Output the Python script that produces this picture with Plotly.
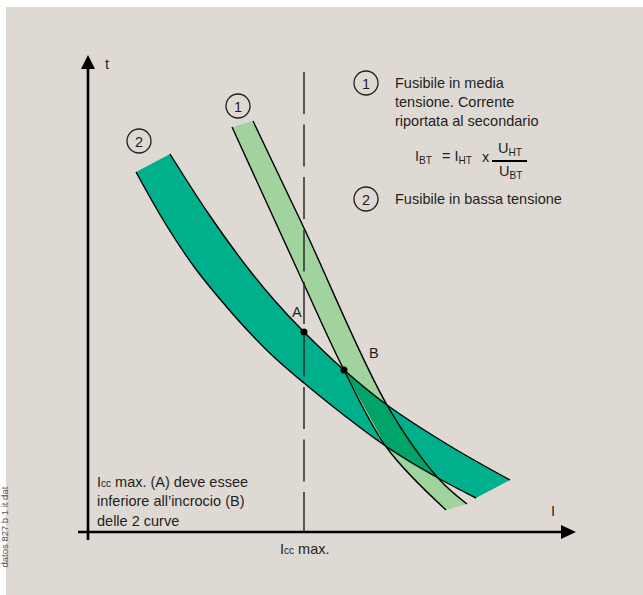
import plotly.graph_objects as go

# ---------------- data (schematic units: current I on x, time t on y; origin at the axes crossing)
fuse2_upper_I = [82, 120, 159, 187, 216, 256, 299, 362, 422]
fuse2_upper_t = [378, 319, 265, 231, 200, 162, 127, 86, 52]
fuse2_lower_I = [48, 77, 107, 137, 162, 187, 216, 257, 299, 350, 388]
fuse2_lower_t = [360, 309, 264, 227, 199, 174, 149, 116, 85, 54, 34]

fuse1_left_I = [144, 214, 256, 299, 358]
fuse1_left_t = [405, 252, 162, 84, 22]
fuse1_right_I = [165, 216, 299, 350, 379]
fuse1_right_t = [411, 304, 127, 54, 28]

overlap_I = [256, 278, 299, 325, 350, 324, 299, 278, 256]
overlap_t = [162, 144, 127, 89, 54, 68, 84, 122, 162]

icc_max = 216
point_labels = ["A", "B"]
point_I = [216, 256]
point_t = [200, 162]

legend_lines_1 = ["Fusibile in media", "tensione. Corrente", "riportata al secondario"]
legend_line_2 = "Fusibile in bassa tensione"
note_lines = ["I<span style='font-size:10px'>cc</span> max. (A) deve essee",
              "inferiore all\u2019incrocio (B)",
              "delle 2 curve"]

# ---------------- style
BG = "#dfd9d4"
TEAL = "#00b08c"
LIGHT = "#a0d39d"
OVER = "#00a46a"
INK = "#231f20"
FONT = "Liberation Sans, Arial, sans-serif"

W, H = 643, 595
ML, MT = 6, 7
OX, OY = 88, 532  # pixel position of the axes origin


def P(x, y):
    """pixel -> schematic coordinates (for decorations/labels)"""
    return x - OX, OY - y


fig = go.Figure()

# band 2 fill
fig.add_trace(go.Scatter(x=fuse2_lower_I, y=fuse2_lower_t, mode="lines",
                         line=dict(width=0, shape="spline", color=TEAL), hoverinfo="skip"))
fig.add_trace(go.Scatter(x=fuse2_upper_I, y=fuse2_upper_t, mode="lines", fill="tonexty",
                         fillcolor=TEAL, line=dict(width=0, shape="spline", color=TEAL),
                         hoverinfo="skip"))
# band 1 fill
fig.add_trace(go.Scatter(x=fuse1_left_I, y=fuse1_left_t, mode="lines",
                         line=dict(width=0, shape="spline", color=LIGHT), hoverinfo="skip"))
fig.add_trace(go.Scatter(x=fuse1_right_I, y=fuse1_right_t, mode="lines", fill="tonexty",
                         fillcolor=LIGHT, line=dict(width=0, shape="spline", color=LIGHT),
                         hoverinfo="skip"))
# overlap
fig.add_trace(go.Scatter(x=overlap_I, y=overlap_t, mode="lines", fill="toself",
                         fillcolor=OVER, line=dict(width=0, color=OVER), hoverinfo="skip"))
# edges
for xs, ys in [(fuse2_upper_I, fuse2_upper_t), (fuse2_lower_I, fuse2_lower_t),
               (fuse1_left_I, fuse1_left_t), (fuse1_right_I, fuse1_right_t)]:
    fig.add_trace(go.Scatter(x=xs, y=ys, mode="lines",
                             line=dict(width=1.4, shape="spline", color="black"),
                             hoverinfo="skip"))
# points A, B
fig.add_trace(go.Scatter(x=point_I, y=point_t, mode="markers",
                         marker=dict(size=7, color="black"), hoverinfo="skip"))

shapes = []
# dashed Icc max line
shapes.append(dict(type="line", xref="x", yref="y", x0=icc_max, x1=icc_max,
                   y0=P(0, 72)[1], y1=0, layer="above",
                   line=dict(color=INK, width=1.4, dash="42px,10.5px")))
# axes
shapes.append(dict(type="line", xref="x", yref="y", x0=P(78, 0)[0], x1=P(563, 0)[0],
                   y0=0, y1=0, line=dict(color="black", width=2.6)))
shapes.append(dict(type="line", xref="x", yref="y", x0=0, x1=0,
                   y0=P(0, 540)[1], y1=P(0, 67)[1], line=dict(color="black", width=2.6)))
# arrowheads
tx, _ = P(576, 0)
bx, _ = P(561, 0)
shapes.append(dict(type="path", xref="x", yref="y",
                   path=f"M {bx},7 L {tx},0 L {bx},-7 Z",
                   fillcolor="black", line=dict(width=0)))
_, ty = P(0, 55)
_, by = P(0, 69)
shapes.append(dict(type="path", xref="x", yref="y",
                   path=f"M -7,{by} L 0,{ty} L 7,{by} Z",
                   fillcolor="black", line=dict(width=0)))
# numbered circles
for (cx, cy) in [(366, 83), (366, 199), (238, 106), (139, 141)]:
    x0, y0 = P(cx - 12, cy + 12)
    x1, y1 = P(cx + 12, cy - 12)
    shapes.append(dict(type="circle", xref="x", yref="y", x0=x0, y0=y0, x1=x1, y1=y1,
                       line=dict(color=INK, width=1.3), fillcolor="rgba(0,0,0,0)"))
# fraction bar
fx0, fy = P(492, 161)
fx1, _ = P(527, 161)
shapes.append(dict(type="line", xref="x", yref="y", x0=fx0, x1=fx1, y0=fy, y1=fy,
                   line=dict(color="black", width=1.8)))

ann = []


def text(x, y, s, size=14.5, xanchor="left", **kw):
    ax, ay = P(x, y)
    ann.append(dict(x=ax, y=ay, xref="x", yref="y", text=s, showarrow=False,
                    xanchor=xanchor, yanchor="middle",
                    font=dict(family=FONT, size=size, color=INK), **kw))


# legend block
for i, line in enumerate(legend_lines_1):
    text(393, 83 + 19 * i, line)
text(393, 199, legend_line_2)
text(366, 84, "1", xanchor="center")
text(366, 200, "2", xanchor="center")
text(238, 107, "1", xanchor="center")
text(139, 142, "2", xanchor="center")
# formula
text(413, 157, "I<sub>BT</sub>")
text(440, 157, "= I<sub>HT</sub>")
text(480, 157, "x")
text(510, 149, "U<sub>HT</sub>", xanchor="center")
text(510, 172, "U<sub>BT</sub>", xanchor="center")
# axis labels
text(107, 64, "t", xanchor="center")
text(553, 511, "I", xanchor="center")
text(304, 549, "I<span style='font-size:10px'>cc</span> max.", xanchor="center")
# points
text(297, 312, point_labels[0], xanchor="center")
text(374, 353, point_labels[1], xanchor="center")
# note
for i, line in enumerate(note_lines):
    text(95, 482 + 19.3 * i, line)
# side code
ann.append(dict(x=(4 - ML) / (W - ML), y=1 - (485 - MT) / (H - MT), xref="paper", yref="paper",
                text="datos 827 b 1 it dat", showarrow=False, textangle=-90,
                xanchor="center", yanchor="top",
                font=dict(family=FONT, size=9.5, color="#555")))

fig.update_layout(
    width=W, height=H,
    margin=dict(l=ML, t=MT, r=0, b=0, pad=0),
    paper_bgcolor="white", plot_bgcolor=BG,
    showlegend=False,
    xaxis=dict(range=[ML - OX, W - OX], visible=False, fixedrange=True),
    yaxis=dict(range=[OY - H, OY - MT], visible=False, fixedrange=True),
    shapes=shapes, annotations=ann,
)

fig.write_html("out.html", config={"displayModeBar": False, "staticPlot": True},
               post_script="document.body.style.margin='0';document.body.style.overflow='hidden';")
